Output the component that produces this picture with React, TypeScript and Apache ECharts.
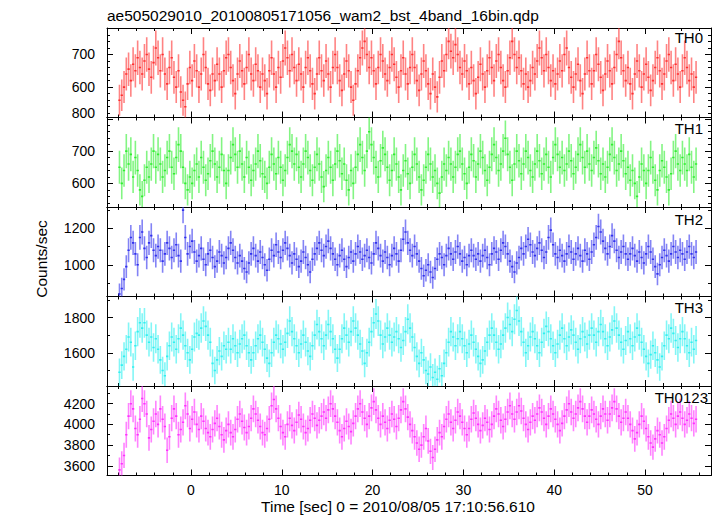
import React, { useEffect, useRef } from 'react';
import * as echarts from 'echarts';

const TITLE = 'ae505029010_20100805171056_wam2_bst_4band_16bin.qdp';
const X_TITLE = 'Time [sec] 0 = 2010/08/05 17:10:56.610';
const Y_TITLE = 'Counts/sec';

const BIN = 0.25;
const T_START = -7.875;
const X_MIN = -9.25;
const X_MAX = 57.27;
const X_TICKS = [0, 10, 20, 30, 40, 50];
const X_MINOR = [-8, -6, -4, -2, 2, 4, 6, 8, 12, 14, 16, 18, 22, 24, 26, 28, 32, 34, 36, 38, 42, 44, 46, 48, 52, 54, 56];

const TH0 = [
  560, 575, 600, 640, 655, 620, 670, 650,
  690, 660, 640, 680, 700, 655, 630, 675,
  720, 690, 650, 700, 640, 610, 660, 690,
  630, 600, 650, 585, 560, 540, 610, 660,
  620, 680, 650, 600, 640, 700, 660, 610,
  590, 640, 620, 670, 640, 600, 650, 690,
  700, 660, 620, 580, 640, 680, 650, 610,
  660, 700, 640, 620, 670, 650, 600, 640,
  620, 580, 650, 690, 640, 600, 660, 630,
  680, 720, 690, 650, 700, 660, 620, 670,
  640, 600, 660, 690, 650, 610, 580, 640,
  690, 650, 620, 680, 640, 600, 660, 700,
  660, 620, 590, 640, 680, 650, 600, 560,
  610, 650, 690, 720, 740, 700, 660, 690,
  650, 610, 660, 700, 680, 640, 620, 660,
  700, 670, 630, 600, 650, 690, 640, 610,
  660, 700, 660, 620, 590, 640, 680, 650,
  610, 580, 640, 600, 570, 630, 680, 650,
  700, 740, 710, 690, 730, 700, 660, 640,
  680, 650, 610, 660, 620, 580, 630, 670,
  640, 600, 650, 690, 660, 620, 680, 700,
  660, 620, 600, 650, 690, 740, 700, 660,
  690, 650, 610, 640, 600, 620, 660, 640,
  680, 720, 690, 650, 700, 660, 620, 650,
  610, 640, 680, 650, 700, 720, 660, 630,
  600, 640, 670, 620, 580, 640, 690, 650,
  610, 650, 700, 670, 630, 590, 640, 680,
  650, 610, 660, 700, 740, 690, 650, 620,
  660, 610, 580, 640, 680, 650, 600, 640,
  670, 630, 590, 620, 660, 690, 650, 610,
  640, 680, 700, 660, 620, 670, 640, 600,
  650, 690, 660, 620, 640, 600, 630,
];

const TH1 = [
  650, 600, 640, 700, 660, 690, 620, 680,
  640, 580, 560, 610, 650, 620, 660, 700,
  650, 690, 660, 620, 640, 680, 700, 650,
  630, 680, 720, 700, 650, 600, 580, 620,
  600, 640, 660, 620, 680, 650, 610, 630,
  670, 700, 660, 620, 650, 690, 640, 600,
  640, 680, 720, 690, 650, 700, 660, 620,
  680, 650, 610, 640, 660, 700, 670, 630,
  620, 600, 650, 690, 660, 630, 680, 650,
  610, 640, 680, 720, 700, 660, 690, 650,
  620, 660, 700, 680, 640, 610, 650, 690,
  660, 620, 590, 640, 680, 650, 610, 660,
  700, 670, 630, 660, 610, 580, 640, 600,
  650, 690, 720, 680, 640, 700, 760, 720,
  680, 650, 620, 670, 710, 690, 650, 610,
  640, 690, 660, 620, 580, 640, 670, 630,
  600, 650, 690, 660, 620, 580, 610, 650,
  690, 660, 620, 640, 600, 570, 620, 660,
  640, 680, 660, 620, 650, 690, 700, 660,
  630, 600, 650, 690, 670, 620, 660, 700,
  680, 640, 610, 650, 690, 720, 680, 640,
  660, 700, 740, 690, 650, 610, 660, 700,
  670, 630, 660, 700, 680, 640, 620, 660,
  700, 670, 630, 660, 690, 650, 620, 680,
  720, 690, 650, 680, 640, 660, 700, 670,
  630, 650, 690, 720, 680, 650, 700, 660,
  640, 680, 710, 670, 630, 660, 620, 650,
  690, 720, 680, 640, 660, 700, 670, 630,
  650, 610, 640, 600, 560, 620, 660, 640,
  600, 640, 680, 650, 610, 580, 640, 670,
  650, 620, 580, 630, 680, 700, 660, 640,
  680, 660, 640, 690, 650, 620, 660,
];

const TH2 = [
  840, 870, 920, 990, 1080, 1150, 1120, 1060,
  1000, 1150, 1180, 1090, 1040, 1120, 1160, 1080,
  1050, 1100, 1080, 1020, 1060, 1120, 1090, 1040,
  1080, 1110, 1050, 1020, 1300, 1150, 1060, 1100,
  1130, 1070, 1020, 1050, 1090, 1030, 1000, 1060,
  1080, 1040, 990, 1020, 1070, 1050, 1010, 1040,
  1090, 1120, 1080, 1040, 1010, 1050, 1020, 980,
  960, 1010, 1060, 1090, 1050, 1020, 1070, 1040,
  1000, 970, 1030, 1080, 1050, 1110, 1070, 1040,
  1080, 1120, 1090, 1050, 1010, 1060, 1030, 990,
  1020, 1070, 1040, 1000, 960, 1030, 1060, 1090,
  1120, 1080, 1050, 1100, 1130, 1090, 1060, 1030,
  1000, 1050, 1080, 1030, 990, 1040, 1070, 1020,
  1060, 1100, 1070, 1030, 1050, 1080, 1040, 1010,
  1060, 1120, 1090, 1050, 1020, 1070, 1040, 1000,
  1050, 1090, 1060, 1020, 1080, 1140, 1180, 1120,
  1080, 1050, 1100, 1060, 1020, 980, 940, 970,
  1000, 960, 930, 980, 1030, 1060, 1040, 1000,
  1050, 1090, 1060, 1030, 1070, 1100, 1060, 1020,
  1040, 1000, 1050, 1080, 1050, 1030, 1060, 1020,
  1050, 1080, 1040, 1000, 1060, 1090, 1070, 1030,
  1080, 1120, 1100, 1060, 1020, 990, 960, 1010,
  1040, 1090, 1060, 1100, 1140, 1110, 1070, 1050,
  1090, 1120, 1080, 1040, 1070, 1150, 1190, 1110,
  1060, 1040, 1080, 1050, 1020, 1060, 1100, 1070,
  1030, 1060, 1090, 1050, 1020, 1080, 1060, 1030,
  1070, 1110, 1150, 1210, 1180, 1130, 1090, 1060,
  1100, 1160, 1130, 1080, 1040, 1070, 1100, 1060,
  1030, 1060, 1090, 1050, 1020, 1070, 1040, 1010,
  1060, 1100, 1070, 1030, 990, 950, 1000, 1040,
  1080, 1050, 1020, 1060, 1100, 1070, 1040, 1080,
  1060, 1030, 1070, 1100, 1060, 1040, 1070,
];

const TH3 = [
  1490, 1530, 1580, 1620, 1690, 1660, 1520, 1640,
  1720, 1770, 1740, 1770, 1700, 1660, 1690, 1630,
  1680, 1620, 1560, 1500, 1470, 1580, 1640, 1690,
  1660, 1620, 1680, 1740, 1700, 1640, 1600, 1560,
  1620, 1690, 1710, 1700, 1740, 1780, 1750, 1700,
  1660, 1540, 1500, 1560, 1610, 1580, 1640, 1620,
  1660, 1620, 1680, 1640, 1600, 1650, 1680, 1700,
  1640, 1600, 1560, 1600, 1640, 1680, 1700, 1660,
  1620, 1570, 1540, 1600, 1660, 1700, 1680, 1650,
  1620, 1660, 1710, 1780, 1720, 1680, 1640, 1600,
  1650, 1700, 1660, 1610, 1580, 1640, 1700, 1760,
  1720, 1680, 1640, 1700, 1760, 1720, 1680, 1620,
  1570, 1620, 1680, 1740, 1700, 1660, 1720, 1780,
  1740, 1700, 1650, 1610, 1540, 1600, 1660, 1720,
  1770, 1820, 1780, 1700, 1650, 1690, 1740, 1700,
  1660, 1690, 1720, 1680, 1630, 1670, 1720, 1790,
  1740, 1690, 1630, 1580, 1540, 1600, 1560, 1500,
  1480, 1520, 1460, 1490, 1450, 1510, 1470, 1540,
  1600, 1660, 1720, 1690, 1640, 1680, 1720, 1680,
  1640, 1600, 1650, 1700, 1660, 1620, 1580, 1540,
  1560, 1610, 1660, 1700, 1740, 1700, 1660, 1620,
  1650, 1700, 1740, 1800, 1760, 1720, 1790, 1840,
  1780, 1720, 1660, 1600, 1640, 1690, 1720, 1680,
  1640, 1600, 1660, 1710, 1750, 1720, 1680, 1640,
  1600, 1650, 1700, 1740, 1680, 1640, 1690, 1730,
  1700, 1660, 1620, 1680, 1720, 1690, 1650, 1700,
  1740, 1700, 1660, 1720, 1760, 1720, 1680, 1640,
  1690, 1730, 1780, 1740, 1700, 1660, 1620, 1670,
  1720, 1680, 1640, 1690, 1740, 1700, 1660, 1620,
  1580, 1540, 1590, 1640, 1600, 1560, 1520, 1580,
  1640, 1700, 1680, 1740, 1710, 1670, 1630, 1680,
  1720, 1680, 1640, 1600, 1660, 1620, 1670,
];

const TH0123 = [
  3560, 3620, 3700, 3900, 4080, 4200, 4150, 3960,
  3900, 4050, 4250, 4200, 4100, 3870, 3950, 4030,
  4100, 4000, 4150, 4050, 3980, 3750, 3880, 4060,
  4150, 4080, 3900, 3950, 4020, 4180, 4100, 3960,
  4050, 4120, 4000, 3950, 4080, 4030, 3960, 3920,
  3880, 3950, 4010, 4060, 3980, 3900, 3850, 3940,
  4000, 3920, 3880, 3950, 4050, 4100, 4030, 3970,
  3920, 3980, 4060, 4150, 4100, 4040, 3980, 3920,
  3900, 3960, 4050, 4180, 4240, 4150, 4060, 3980,
  3920, 3880, 4000, 4060, 3990, 3940, 4020, 4090,
  4050, 3980, 3920, 3960, 4040, 4100, 4060, 3990,
  4040, 4080, 4120, 4060, 4140, 4200, 4150, 4080,
  4020, 3940, 3880, 3960, 4030, 3980, 3930, 4010,
  4080, 4150, 4200, 4120, 4060, 4000, 4080, 4160,
  4220, 4140, 4060, 4000, 4080, 4020, 3960, 4040,
  4100, 4050, 3980, 4060, 4140, 4220, 4150, 4070,
  4000, 3940, 3880, 3820, 3760, 3800, 3880, 3960,
  3840, 3740, 3680, 3760, 3850, 3920, 3880, 3980,
  4050, 4100, 4020, 3960, 4040, 4120, 4080, 4020,
  3960, 3900, 3960, 4050, 4110, 4060, 4000, 3940,
  3990, 4060, 4020, 3950, 4000, 4080, 4150, 4100,
  4040, 3980, 4050, 4120, 4180, 4100, 4050, 4120,
  4180, 4130, 4060, 4000, 3950, 4020, 4080, 4040,
  4100, 4160, 4120, 4060, 4000, 4080, 4150, 4100,
  4050, 4000, 3940, 4010, 4080, 4140, 4200, 4120,
  4060, 4100, 4160, 4220, 4150, 4080, 4020, 4080,
  4140, 4100, 4050, 4000, 4080, 4150, 4100, 4040,
  4100, 4160, 4220, 4150, 4080, 4020, 4060, 4120,
  4060, 4000, 3940, 3860, 3920, 4000, 4080, 4030,
  3960, 3880, 3820, 3780, 3860, 3940, 3900, 3820,
  3880, 3960, 4040, 4100, 4060, 4000, 4080, 4120,
  4060, 4000, 4040, 4100, 4060, 4010, 4050,
];

const PANEL_NAMES = ['TH0', 'TH1', 'TH2', 'TH3', 'TH0123'];
const PANEL_VALUES = [TH0, TH1, TH2, TH3, TH0123];
const PANEL_COLORS = ['#ff3030', '#30ee30', '#3030ee', '#30f0f0', '#ff30ff'];
const Y_MIN = [507, 527, 826, 1412, 3506];
const Y_MAX = [781, 804, 1317, 1919, 4371];
const Y_MAJOR = [
  [600, 700],
  [600, 700, 800],
  [1000, 1200],
  [1600, 1800],
  [3600, 3800, 4000, 4200],
];
const Y_MINOR = [
  [520, 540, 560, 580, 620, 640, 660, 680, 720, 740, 760, 780],
  [540, 560, 580, 620, 640, 660, 680, 720, 740, 760, 780],
  [900, 1100, 1300],
  [1500, 1700, 1900],
  [3700, 3900, 4100, 4300],
];

const FONT = '"Liberation Sans", Arial, Helvetica, sans-serif';
const GRID_LEFT = 107;
const GRID_RIGHT = 6;
const GRID_TOP = 28;
const GRID_H = 89.5;
const LABEL_POS = [
  [703, 37],
  [703, 128],
  [703, 219],
  [703, 307],
  [708, 397],
];

export default function App() {
  const ref = useRef<HTMLDivElement>(null);
  useEffect(() => {
    if (!ref.current) return;
    const chart = echarts.init(ref.current, null, { renderer: 'svg' });
    const grids: any[] = [];
    const xAxes: any[] = [];
    const yAxes: any[] = [];
    const series: any[] = [];
    const graphics: any[] = [];
    const black = '#000';

    PANEL_NAMES.forEach((name, i) => {
      grids.push({ left: GRID_LEFT, right: GRID_RIGHT, top: GRID_TOP + i * GRID_H, height: GRID_H });
      const xBase = { type: 'value', gridIndex: i, min: X_MIN, max: X_MAX, splitLine: { show: false } };
      const mkX = (position: string, major: boolean, line: boolean, labels: boolean) => ({
        ...xBase,
        position,
        axisLine: { show: line, onZero: false, lineStyle: { color: black, width: 1 } },
        axisTick: {
          show: true, inside: true, length: major ? 6 : 3,
          customValues: major ? X_TICKS : X_MINOR,
          lineStyle: { color: black, width: 1 },
        },
        axisLabel: {
          show: labels, customValues: X_TICKS, margin: 7, fontSize: 14,
          color: black, fontFamily: FONT,
        },
      });
      const xi = xAxes.length;
      xAxes.push(mkX('bottom', true, true, i === 4));
      xAxes.push(mkX('bottom', false, false, false));
      xAxes.push(mkX('top', true, true, false));
      xAxes.push(mkX('top', false, false, false));

      const yBase = { type: 'value', gridIndex: i, min: Y_MIN[i], max: Y_MAX[i], splitLine: { show: false } };
      const mkY = (position: string, major: boolean, line: boolean, labels: boolean) => ({
        ...yBase,
        position,
        axisLine: { show: line, onZero: false, lineStyle: { color: black, width: 1 } },
        axisTick: {
          show: true, inside: true, length: major ? 6 : 3,
          customValues: major ? Y_MAJOR[i] : Y_MINOR[i],
          lineStyle: { color: black, width: 1 },
        },
        axisLabel: {
          show: labels, customValues: Y_MAJOR[i], margin: 12, fontSize: 14,
          color: black, fontFamily: FONT,
          formatter: (v: number) => (i === 1 && v === 800 ? '{up|800}' : String(v)),
          rich: { up: { fontSize: 14, color: black, fontFamily: FONT, padding: [0, 0, 12, 0] } },
        },
      });
      const yi = yAxes.length;
      yAxes.push(mkY('left', true, true, true));
      yAxes.push(mkY('left', false, false, false));
      yAxes.push(mkY('right', true, true, false));
      yAxes.push(mkY('right', false, false, false));

      const color = PANEL_COLORS[i];
      const vals = PANEL_VALUES[i];
      const data = vals.map((v, k) => [T_START + k * BIN, v, Math.sqrt(v / BIN)]);
      series.push({
        type: 'custom',
        name,
        xAxisIndex: xi,
        yAxisIndex: yi,
        clip: true,
        data,
        renderItem: (params: any, api: any) => {
          const t = api.value(0);
          const v = api.value(1);
          const e = api.value(2);
          const a = api.coord([t - BIN / 2, v]);
          const b = api.coord([t + BIN / 2, v]);
          const lo = api.coord([t, v - e]);
          const hi = api.coord([t, v + e]);
          return {
            type: 'group',
            children: [
              { type: 'line', shape: { x1: lo[0], y1: lo[1], x2: hi[0], y2: hi[1] }, style: { stroke: color, lineWidth: 1.6, opacity: 0.6 } },
              { type: 'line', shape: { x1: a[0], y1: a[1], x2: b[0], y2: b[1] }, style: { stroke: color, lineWidth: 1.6 } },
            ],
          };
        },
      });

      graphics.push({
        type: 'text', x: LABEL_POS[i][0], y: LABEL_POS[i][1], z: 100,
        style: { text: name, fill: black, font: `15px ${FONT}`, textAlign: 'right', textVerticalAlign: 'middle' },
      });
    });

    graphics.push({
      type: 'text', x: 107, y: 15,
      style: { text: TITLE, fill: black, font: `15.5px ${FONT}`, textAlign: 'left', textVerticalAlign: 'middle' },
    });
    graphics.push({
      type: 'text', x: 398, y: 506,
      style: { text: X_TITLE, fill: black, font: `15.5px ${FONT}`, textAlign: 'center', textVerticalAlign: 'middle' },
    });
    graphics.push({
      type: 'text', x: 41, y: 259, rotation: Math.PI / 2,
      style: { text: Y_TITLE, fill: black, font: `15.5px ${FONT}`, textAlign: 'center', textVerticalAlign: 'middle' },
    });

    chart.setOption({
      animation: false,
      backgroundColor: '#fff',
      grid: grids,
      xAxis: xAxes,
      yAxis: yAxes,
      series,
      graphic: graphics,
    });
    return () => chart.dispose();
  }, []);
  return <div ref={ref} style={{ position: 'fixed', left: 0, top: 0, width: 717, height: 516 }} />;
}
